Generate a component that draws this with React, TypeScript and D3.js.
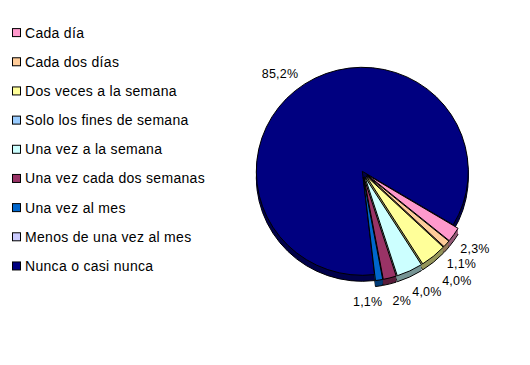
import React, { useEffect, useRef } from "react";
import * as d3 from "d3";

// frequency categories, in legend order
const categories = [
  "Cada día",
  "Cada dos días",
  "Dos veces a la semana",
  "Solo los fines de semana",
  "Una vez a la semana",
  "Una vez cada dos semanas",
  "Una vez al mes",
  "Menos de una vez al mes",
  "Nunca o casi nunca",
];
const values = [2.3, 1.1, 4.0, 0, 4.0, 2, 1.1, 0, 85.2];
const valueLabels = ["2,3%", "1,1%", "4,0%", "", "4,0%", "2%", "1,1%", "", "85,2%"];
const colors = [
  "#FF99CC",
  "#FFCC99",
  "#FFFF99",
  "#99CCFF",
  "#CCFFFF",
  "#993366",
  "#0066CC",
  "#CCCCFF",
  "#000080",
];
// slices pulled out of the pie
const exploded = [true, true, true, true, true, true, true, true, false];
// label nudges (Excel's label placement)
const labelNudge: [number, number][] = [
  [1.5, 0.5], [-3, 4], [8, 6.5], [0, 0], [7, -0.5], [6, -0.5], [-15, -2], [0, 0], [-8.6, 14.7],
];

const App = () => {
  const ref = useRef<SVGSVGElement>(null);
  const width = 530;
  const height = 365;

  useEffect(() => {
    const svg = d3.select(ref.current);
    svg.selectAll("*").remove();

    const cx = 362.3;
    const cy = 171.3;
    const rx = 106;
    const ry = 104;
    const depth = 6;
    const explode = 6;
    const labelR = 136;

    const start = (121 * Math.PI) / 180;
    const pie = d3
      .pie<number>()
      .sort(null)
      .value((d) => d)
      .startAngle(start)
      .endAngle(start + 2 * Math.PI);
    const arcs = pie(values);
    const arc = d3.arc<d3.PieArcDatum<number>>().innerRadius(0).outerRadius(rx);

    const slices = arcs
      .map((a, i) => {
        const mid = (a.startAngle + a.endAngle) / 2;
        const e = exploded[i] ? explode : 0;
        return {
          a,
          i,
          mid,
          dx: Math.sin(mid) * e,
          dy: -Math.cos(mid) * e,
        };
      })
      .filter((s) => s.a.value > 0);

    // draw back slice (navy) first, then the pulled-out ones
    const ordered = [...slices].sort((p, q) => (exploded[p.i] ? 1 : 0) - (exploded[q.i] ? 1 : 0));

    const pieG = svg.append("g");

    ordered.forEach((s) => {
      const side = d3.color(colors[s.i])!.darker(1.5).formatHex();
      for (let k = depth; k >= 1; k--) {
        pieG
          .append("path")
          .attr("d", arc(s.a))
          .attr(
            "transform",
            `translate(${cx + s.dx},${cy + s.dy + k}) scale(1,${ry / rx})`
          )
          .attr("fill", side)
          .attr("stroke", k === depth ? "#000" : "none")
          .attr("stroke-width", 1)
          .attr("vector-effect", "non-scaling-stroke");
      }
    });

    ordered.forEach((s) => {
      pieG
        .append("path")
        .attr("d", arc(s.a))
        .attr("transform", `translate(${cx + s.dx},${cy + s.dy}) scale(1,${ry / rx})`)
        .attr("fill", colors[s.i])
        .attr("stroke", "#000")
        .attr("stroke-width", 1)
        .attr("vector-effect", "non-scaling-stroke");
    });

    // percentage labels
    svg
      .append("g")
      .selectAll("text")
      .data(slices)
      .join("text")
      .attr("x", (s) => cx + Math.sin(s.mid) * labelR + labelNudge[s.i][0])
      .attr("y", (s) => cy - Math.cos(s.mid) * labelR * (ry / rx) + labelNudge[s.i][1])
      .attr("dy", "0.35em")
      .attr("text-anchor", "middle")
      .attr("font-family", "'Liberation Sans', Arial, sans-serif")
      .attr("font-size", 12.5)
      .attr("letter-spacing", 0.2)
      .attr("fill", "#000")
      .text((s) => valueLabels[s.i]);

    // legend
    const legendY = d3
      .scalePoint<string>()
      .domain(categories)
      .range([32.6, 32.6 + 29.17 * (categories.length - 1)]);

    const leg = svg
      .append("g")
      .selectAll("g")
      .data(categories)
      .join("g")
      .attr("transform", (d) => `translate(0,${legendY(d)})`);

    leg
      .append("rect")
      .attr("x", 12.5)
      .attr("y", -4)
      .attr("width", 8)
      .attr("height", 8)
      .attr("fill", (d, i) => colors[i])
      .attr("stroke", "#000")
      .attr("stroke-width", 1);

    leg
      .append("text")
      .attr("x", 25)
      .attr("y", 0)
      .attr("dy", "0.36em")
      .attr("font-family", "'Liberation Sans', Arial, sans-serif")
      .attr("font-size", 14)
      .attr("letter-spacing", 0.3)
      .attr("fill", "#000")
      .text((d) => d);
  }, []);

  return (
    <svg
      ref={ref}
      width={width}
      height={height}
      style={{ position: "absolute", left: 0, top: 0, background: "#fff" }}
    />
  );
};

export default App;
